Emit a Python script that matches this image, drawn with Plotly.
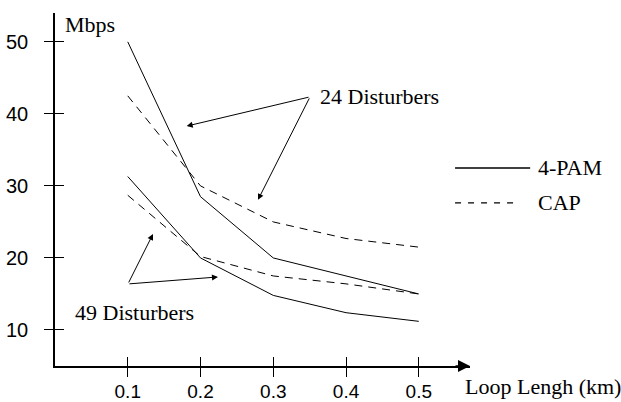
import plotly.graph_objects as go

# ---- data ----
loop_km = [0.1, 0.2, 0.3, 0.4, 0.5]
pam_24 = [50.0, 28.5, 20.0, 17.5, 15.0]
cap_24 = [42.5, 30.0, 25.0, 22.7, 21.5]
pam_49 = [31.3, 20.0, 14.8, 12.4, 11.2]
cap_49 = [28.7, 20.2, 17.5, 16.4, 15.0]

x_ticks = [0.1, 0.2, 0.3, 0.4, 0.5]
x_tick_labels = ["0.1", "0.2", "0.3", "0.4", "0.5"]
y_ticks = [10, 20, 30, 40, 50]
y_tick_labels = ["10", "20", "30", "40", "50"]

X_MAX = 0.5704
Y_MIN, Y_MAX = 5.0, 54.0

SERIF = "Liberation Serif"
SANS = "Liberation Sans"
BLACK = "#000000"
DASH = "8px,6px"

fig = go.Figure()
for name, ys, dash in [("4-PAM", pam_24, "solid"), ("CAP", cap_24, DASH),
                       ("4-PAM", pam_49, "solid"), ("CAP", cap_49, DASH)]:
    fig.add_trace(go.Scatter(x=loop_km, y=ys, mode="lines", name=name,
                             line=dict(color=BLACK, width=1, dash=dash),
                             showlegend=False, cliponaxis=False))
# empty helper traces so the overlay axes (inner half of the crossing ticks) are drawn
fig.add_trace(go.Scatter(x=[], y=[], xaxis="x2", yaxis="y", showlegend=False, hoverinfo="skip"))
fig.add_trace(go.Scatter(x=[], y=[], xaxis="x", yaxis="y2", showlegend=False, hoverinfo="skip"))

shapes = []
# legend keys
shapes.append(dict(type="line", xref="paper", yref="paper", x0=0.964, x1=1.145, y0=0.561, y1=0.561,
                   line=dict(color=BLACK, width=1.5)))
shapes.append(dict(type="line", xref="paper", yref="paper", x0=0.964, x1=1.12, y0=0.462, y1=0.462,
                   line=dict(color=BLACK, width=1.2, dash="6px,7px")))

tf = dict(family=SERIF, size=22, color=BLACK)
annotations = [
    dict(text="Mbps", x=0.011, y=52.4, xref="x", yref="y", xanchor="left", yanchor="middle",
         showarrow=False, font=tf),
    dict(text="24 Disturbers", x=0.3615, y=42.36, xref="x", yref="y", xanchor="left",
         yanchor="middle", showarrow=False, font=tf),
    dict(text="49 Disturbers", x=0.0247, y=12.36, xref="x", yref="y", xanchor="left",
         yanchor="middle", showarrow=False, font=tf),
    dict(text="Loop Lengh (km)", x=0.983, y=-0.057, xref="paper", yref="paper", xanchor="left",
         yanchor="middle", showarrow=False, font=tf),
    dict(text="4-PAM", x=1.159, y=0.561, xref="paper", yref="paper", xanchor="left",
         yanchor="middle", showarrow=False, font=tf),
    dict(text="CAP", x=1.159, y=0.462, xref="paper", yref="paper", xanchor="left",
         yanchor="middle", showarrow=False, font=tf),
]
# pointer arrows
arrows = [
    ((0.3505, 42.36), (0.181, 38.3)),
    ((0.3505, 42.36), (0.279, 28.06)),
    ((0.1003, 16.39), (0.1347, 23.33)),
    ((0.1003, 16.39), (0.224, 17.36)),
]
for (tx, ty), (hx, hy) in arrows:
    annotations.append(dict(x=hx, y=hy, ax=tx, ay=ty, xref="x", yref="y", axref="x", ayref="y",
                            text="", showarrow=True, arrowhead=2, arrowsize=1.2, arrowwidth=1,
                            arrowcolor=BLACK))
# x axis arrow
annotations.append(dict(x=X_MAX, y=Y_MIN, xref="x", yref="y", ax=-16, ay=0, text="",
                        showarrow=True, arrowhead=2, arrowsize=1.6, arrowwidth=1.5,
                        arrowcolor=BLACK))

fig.update_layout(
    width=621, height=402,
    margin=dict(l=55, r=151, t=13, b=36, autoexpand=False),
    paper_bgcolor="white", plot_bgcolor="white",
    shapes=shapes, annotations=annotations,
    showlegend=False, hovermode=False,
    xaxis=dict(range=[0, X_MAX], showgrid=False, zeroline=False, showline=True,
               linecolor=BLACK, linewidth=1.5, ticks="outside", ticklen=9, tickwidth=1.2,
               tickcolor=BLACK, tickvals=x_ticks, ticktext=x_tick_labels,
               ticklabelstandoff=-2, automargin=False,
               tickfont=dict(family=SANS, size=19, color=BLACK)),
    yaxis=dict(range=[Y_MIN, Y_MAX], showgrid=False, zeroline=False, showline=True,
               linecolor=BLACK, linewidth=1.5, ticks="outside", ticklen=9, tickwidth=1.2,
               tickcolor=BLACK, tickvals=y_ticks, ticktext=y_tick_labels,
               ticklabelstandoff=12, automargin=False,
               tickfont=dict(family=SANS, size=20, color=BLACK)),
    xaxis2=dict(overlaying="x", anchor="y", side="bottom", range=[0, X_MAX], showgrid=False,
                zeroline=False, showline=False, ticks="inside", ticklen=9, tickwidth=1.2,
                tickcolor=BLACK, tickvals=x_ticks, showticklabels=False, automargin=False),
    yaxis2=dict(overlaying="y", anchor="x", side="left", range=[Y_MIN, Y_MAX], showgrid=False,
                zeroline=False, showline=False, ticks="inside", ticklen=9, tickwidth=1.2,
                tickcolor=BLACK, tickvals=y_ticks, showticklabels=False, automargin=False),
)

fig.write_html("out.html", config={"displayModeBar": False},
               post_script="document.body.style.margin='0';")
